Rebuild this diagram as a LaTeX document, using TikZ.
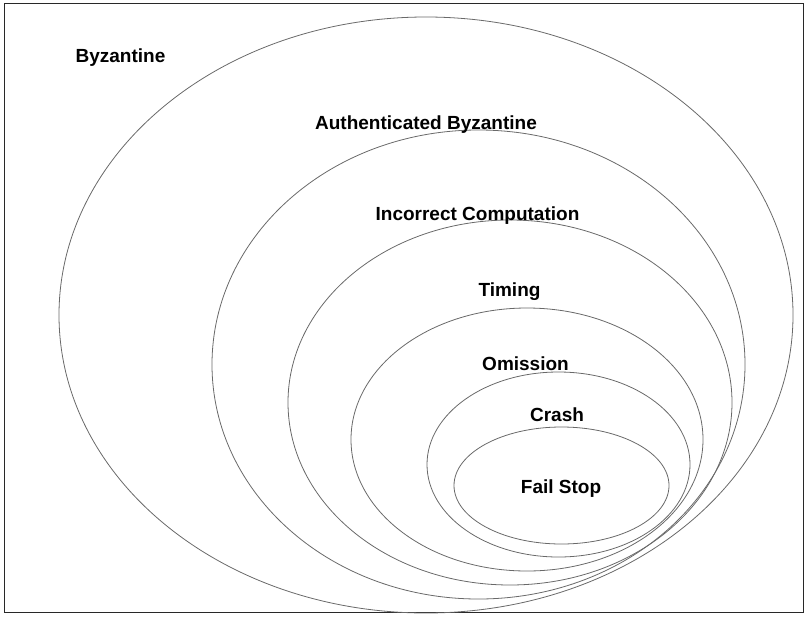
\documentclass[tikz,border=0pt]{standalone}
\usepackage{fontspec}
\setmainfont{Liberation Sans}
\usepackage{xcolor}
\usepackage{tikz}
\usetikzlibrary{positioning}
\definecolor{ringgray}{RGB}{105, 105, 105}
\definecolor{framegray}{RGB}{40, 40, 40}

\tikzset{
    ring/.style={draw=ringgray, line width=0.8pt},
    faultlabel/.style={font=\fontsize{19}{22}\selectfont\bfseries, anchor=base, inner sep=0pt}
}

\begin{document}
\begin{tikzpicture}[x=1pt, y=-1pt]
        \useasboundingbox (0,0) rectangle (805,616);
        % frame round the whole picture
        \draw[draw=framegray, line width=1pt] (4,3.5) rectangle (803.5,612.5);

        % nested fault classes, outermost first
        \foreach \cx/\cy/\rx/\ry in {426/315/367/298, 478.5/364.5/266.5/234.5, 510/402.5/222/182.5, 527/439.5/176/131.5, 558.5/464.5/131.5/92.5, 561.5/485.5/107.5/58.5} {
            \draw[ring] (\cx,\cy) ellipse [x radius=\rx, y radius=\ry];
        }

        % class names
        \foreach \i/\x/\y/\name in {byz/120.5/62/Byzantine, auth/426/129/Authenticated Byzantine, comp/477.5/220/Incorrect Computation, timing/509.5/296/Timing, omission/525.5/370/Omission, crash/557/421/Crash, failstop/561/493/Fail Stop} {
            \node[faultlabel] (lbl-\i) at (\x,\y) {\name};
        }
    \end{tikzpicture}
\end{document}
